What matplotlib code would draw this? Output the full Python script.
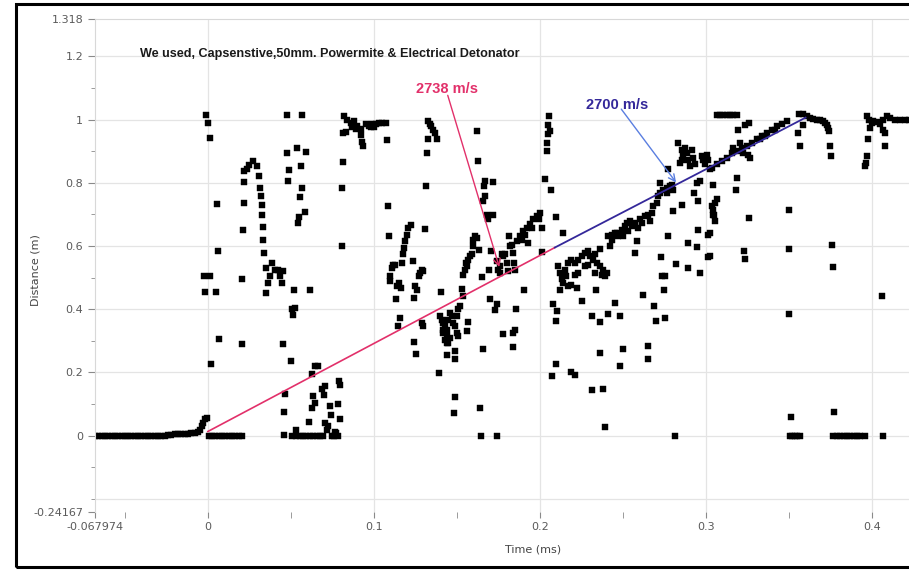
import matplotlib
matplotlib.use("Agg")
import matplotlib.pyplot as plt
from matplotlib.patches import Rectangle

# baseline before trigger (dense run of points at 0)
base_x = [-0.068, -0.066, -0.064, -0.062, -0.060, -0.058, -0.056, -0.054, -0.052, -0.050,
          -0.048, -0.046, -0.044, -0.042, -0.040, -0.038, -0.036, -0.034, -0.032, -0.030,
          -0.028, -0.026, -0.024, -0.022, -0.020, -0.018, -0.016, -0.014, -0.012, -0.010,
          -0.008, -0.006, -0.0048, -0.0038, -0.0028, -0.0018, -0.0008,
          0.0005, 0.0025, 0.0045, 0.0065, 0.0085, 0.0105, 0.0125, 0.0145, 0.0165, 0.0185, 0.0205]
base_y = [0.0, 0.0, 0.0, 0.0, 0.0, 0.0, 0.0, 0.0, 0.0, 0.0,
          0.0, 0.0, 0.0, 0.0, 0.0, 0.0, 0.0, 0.0, 0.0, 0.0,
          0.0, 0.0, 0.003, 0.003, 0.004, 0.004, 0.005, 0.006, 0.006, 0.007,
          0.008, 0.010, 0.019, 0.029, 0.040, 0.051, 0.056,
          0.0, 0.0, 0.0, 0.0, 0.0, 0.0, 0.0, 0.0, 0.0, 0.0, 0.0]

# 0 .. 0.08 ms
g1_x = [-0.001, 0.000, 0.001, 0.0056, 0.006, -0.0024, 0.0012, -0.002, 0.005, 0.0068, 0.0018,
        0.0219, 0.0235, 0.0250, 0.0273, 0.0293, 0.0307, 0.0317, 0.0323, 0.0325, 0.0327, 0.033,
        0.0333, 0.0337, 0.0353, 0.0384, 0.0404, 0.0434, 0.0444, 0.0373, 0.0363, 0.0353, 0.0424,
        0.0454, 0.0219, 0.0215, 0.0209, 0.0205, 0.0207,
        0.0474, 0.0568, 0.0474, 0.0538, 0.0594, 0.049, 0.0564, 0.0484, 0.0568, 0.0554, 0.0584,
        0.0548, 0.054, 0.052, 0.0614, 0.0504, 0.0514, 0.0524, 0.045, 0.05, 0.0464, 0.046, 0.0456,
        0.0645, 0.0665, 0.0625, 0.0685, 0.0705, 0.0635, 0.070, 0.0645, 0.0625, 0.0789, 0.0795,
        0.0785, 0.0735, 0.0741, 0.0795, 0.0608, 0.0705, 0.0725, 0.0715,
        0.0508, 0.053, 0.0554, 0.0574, 0.0594, 0.0614, 0.0634, 0.0655, 0.0675, 0.0695, 0.0745,
        0.0761, 0.0781, 0.053, 0.0765, 0.0772,
        0.0815, 0.0815, 0.0809, 0.0805]
g1_y = [1.014, 0.99, 0.943, 0.734, 0.585, 0.504, 0.504, 0.455, 0.455, 0.307, 0.228,
        0.836, 0.845, 0.855, 0.868, 0.852, 0.821, 0.784, 0.757, 0.731, 0.699, 0.660,
        0.620, 0.578, 0.531, 0.546, 0.525, 0.504, 0.483, 0.504, 0.483, 0.451, 0.525,
        0.520, 0.802, 0.736, 0.652, 0.494, 0.291,
        1.014, 1.014, 0.895, 0.910, 0.898, 0.839, 0.852, 0.805, 0.784, 0.755, 0.707,
        0.692, 0.673, 0.460, 0.462, 0.399, 0.383, 0.404, 0.291, 0.235, 0.133, 0.074, 0.003,
        0.219, 0.219, 0.196, 0.146, 0.158, 0.124, 0.130, 0.103, 0.088, 0.172, 0.161,
        0.101, 0.095, 0.066, 0.051, 0.042, 0.040, 0.030, 0.019,
        0.0, 0.0, 0.0, 0.0, 0.0, 0.0, 0.0, 0.0, 0.0, 0.0, 0.0,
        0.0, 0.0, 0.019, 0.012, 0.008,
        0.958, 0.866, 0.784, 0.601]

# 0.08 .. 0.2 ms
g2_x = [0.082, 0.084, 0.086, 0.088, 0.090, 0.092, 0.0925, 0.093, 0.0935, 0.095, 0.097, 0.099,
        0.101, 0.103, 0.105, 0.107, 0.083, 0.087, 0.089, 0.098, 0.100, 0.1076, 0.1082, 0.109,
        0.1107, 0.1117, 0.1127, 0.1096, 0.11, 0.1137, 0.1153, 0.1161, 0.1133, 0.1167,
        0.1173, 0.1181, 0.1187, 0.1197, 0.1207, 0.1221, 0.1157, 0.1147, 0.1237,
        0.1277, 0.1287, 0.1297, 0.1273, 0.1247, 0.1257, 0.1241, 0.1307, 0.1311, 0.1317, 0.1327,
        0.1327, 0.1337, 0.1347, 0.1357, 0.1367, 0.1381, 0.1287, 0.1297, 0.1241, 0.1251,
        0.1398, 0.1408, 0.1418, 0.1428, 0.1418, 0.1428, 0.1438, 0.1448, 0.1414, 0.1442, 0.1448,
        0.1458, 0.1468, 0.1478, 0.1488, 0.1498, 0.1508, 0.1498, 0.1508, 0.1518, 0.1442, 0.1458,
        0.1404, 0.1442, 0.1488, 0.1488, 0.1394, 0.1488, 0.1482, 0.1528, 0.1534, 0.1568, 0.1562,
        0.1538, 0.1548, 0.1558, 0.1554, 0.1568, 0.1578, 0.1588, 0.1598, 0.1608, 0.1619, 0.1598,
        0.1634, 0.1649, 0.1622, 0.1625, 0.1669, 0.1663, 0.1719, 0.1669, 0.1659, 0.1679, 0.1689,
        0.1719, 0.1655, 0.1639, 0.1643, 0.1739, 0.1699, 0.1739, 0.1729, 0.1695, 0.1703,
        0.1739, 0.1749, 0.1759, 0.1769, 0.1779, 0.1799, 0.1809, 0.1815, 0.1819, 0.1839, 0.1843,
        0.1849, 0.1829, 0.1789, 0.1759, 0.1855, 0.1779, 0.1835, 0.1849, 0.1835, 0.1906, 0.193,
        0.186, 0.188, 0.19, 0.192, 0.194, 0.196, 0.198, 0.2, 0.189, 0.191, 0.195,
        0.1994, 0.201, 0.201]
g2_y = [1.01, 1.0, 0.99, 0.995, 0.98, 0.97, 0.95, 0.93, 0.915, 0.985, 0.98, 0.985,
        0.985, 0.99, 0.99, 0.99, 0.96, 0.975, 0.97, 0.975, 0.975, 0.934, 0.726, 0.633,
        0.531, 0.539, 0.541, 0.504, 0.488, 0.472, 0.483, 0.467, 0.433, 0.546,
        0.573, 0.594, 0.615, 0.636, 0.657, 0.665, 0.372, 0.346, 0.552,
        0.515, 0.525, 0.520, 0.504, 0.472, 0.462, 0.436, 0.654, 0.789, 0.895, 0.937,
        0.995, 0.987, 0.979, 0.968, 0.958, 0.937, 0.357, 0.346, 0.295, 0.259,
        0.378, 0.367, 0.357, 0.346, 0.325, 0.304, 0.293, 0.293, 0.335, 0.335, 0.367,
        0.388, 0.378, 0.357, 0.346, 0.325, 0.314, 0.378, 0.399, 0.409, 0.314, 0.309,
        0.454, 0.256, 0.267, 0.241, 0.198, 0.121, 0.070, 0.464, 0.441, 0.359, 0.330,
        0.509, 0.525, 0.536, 0.546, 0.557, 0.567, 0.573, 0.620, 0.631, 0.625, 0.599,
        0.586, 0.501, 0.963, 0.868, 0.805, 0.789, 0.802, 0.757, 0.741, 0.699, 0.684,
        0.699, 0.274, 0.088, -0.002, -0.002, 0.433, 0.415, 0.396, 0.523, 0.583,
        0.552, 0.525, 0.536, 0.573, 0.567, 0.546, 0.520, 0.631, 0.599, 0.578, 0.546,
        0.525, 0.604, 0.573, 0.515, 0.399, 0.322, 0.325, 0.335, 0.281, 0.460, 0.608,
        0.615, 0.631, 0.646, 0.657, 0.668, 0.684, 0.694, 0.705, 0.620, 0.636, 0.657,
        0.684, 0.657, 0.580]

# 0.2 .. 0.305 ms
g3_x = [0.2054, 0.205, 0.206, 0.2046, 0.204, 0.204, 0.203, 0.2066, 0.2094, 0.214,
        0.211, 0.212, 0.2131, 0.212, 0.214, 0.216, 0.217, 0.219, 0.221, 0.223, 0.2251, 0.2271,
        0.2291, 0.2301, 0.2321, 0.2341, 0.2361, 0.2381, 0.2402, 0.217, 0.219, 0.2221, 0.221,
        0.223, 0.2271, 0.2291, 0.2331, 0.2372, 0.2392, 0.2151, 0.2331, 0.2361,
        0.2337, 0.2251, 0.208, 0.21, 0.2096, 0.2311, 0.2361, 0.2408, 0.2452, 0.2482, 0.2361,
        0.2502, 0.2482, 0.2096, 0.2074, 0.2187, 0.2211, 0.2315, 0.2381, 0.2392, 0.2649, 0.2649,
        0.2619, 0.2689, 0.2697, 0.2753, 0.2733, 0.2753, 0.2749, 0.2729, 0.2813,
        0.2412, 0.2422, 0.2432, 0.2452, 0.2472, 0.2492, 0.2512, 0.2522, 0.2542, 0.2552, 0.2572,
        0.2592, 0.2612, 0.2633, 0.2653, 0.2673, 0.2683, 0.2703, 0.2713, 0.2723, 0.2743, 0.2763,
        0.2783, 0.2432, 0.2462, 0.2502, 0.2532, 0.2572, 0.2602, 0.2663, 0.2582, 0.2572,
        0.2723, 0.2773, 0.2793, 0.2763, 0.2803,
        0.2833, 0.2854, 0.2864, 0.2874, 0.2884, 0.2894, 0.2904, 0.2914, 0.2924, 0.2934, 0.2974,
        0.2984, 0.2994, 0.3004, 0.3014, 0.2843, 0.2854, 0.2944, 0.2964, 0.3024,
        0.2854, 0.2803, 0.293, 0.2954, 0.2769, 0.2817, 0.2894, 0.2944, 0.2954, 0.2894, 0.2964,
        0.301, 0.3014, 0.3034, 0.3044]
g3_y = [1.010, 0.984, 0.963, 0.953, 0.926, 0.900, 0.812, 0.776, 0.692, 0.641,
        0.536, 0.515, 0.494, 0.462, 0.483, 0.504, 0.546, 0.557, 0.546, 0.557, 0.567, 0.578,
        0.583, 0.567, 0.557, 0.546, 0.536, 0.525, 0.515, 0.472, 0.478, 0.467, 0.509,
        0.515, 0.536, 0.541, 0.515, 0.509, 0.504, 0.525, 0.576, 0.591,
        0.460, 0.426, 0.417, 0.393, 0.364, 0.378, 0.359, 0.385, 0.420, 0.378, 0.262,
        0.274, 0.219, 0.225, 0.190, 0.200, 0.192, 0.143, 0.146, 0.028, 0.285, 0.241,
        0.446, 0.409, 0.362, 0.372, 0.504, 0.506, 0.462, 0.564, -0.002,
        0.631, 0.599, 0.620, 0.641, 0.631, 0.652, 0.662, 0.673, 0.678, 0.662, 0.668,
        0.657, 0.673, 0.694, 0.699, 0.705, 0.726, 0.736, 0.757, 0.768, 0.778, 0.784,
        0.789, 0.636, 0.641, 0.631, 0.647, 0.673, 0.684, 0.678, 0.615, 0.578,
        0.800, 0.842, 0.794, 0.768, 0.778,
        0.926, 0.905, 0.884, 0.910, 0.894, 0.873, 0.852, 0.905, 0.879, 0.858, 0.884,
        0.873, 0.858, 0.889, 0.873, 0.863, 0.873, 0.800, 0.805, 0.842,
        0.731, 0.710, 0.768, 0.741, 0.631, 0.544, 0.610, 0.597, 0.650, 0.531, 0.515,
        0.636, 0.564, 0.726, 0.699]

# 0.3 .. 0.42 ms
g4_x = [0.3034, 0.3064, 0.3094, 0.3125, 0.3155, 0.3185, 0.3215, 0.3245, 0.3275, 0.3305, 0.3335,
        0.3366, 0.3396, 0.3426, 0.3456, 0.3486, 0.3225, 0.3255, 0.3265, 0.3165, 0.3205, 0.3325,
        0.3355, 0.3416, 0.3185, 0.3181, 0.3195, 0.3235, 0.3261,
        0.3064, 0.3085, 0.3105, 0.3125, 0.3145, 0.3165, 0.3185,
        0.3044, 0.3054, 0.3044, 0.3048, 0.3054, 0.3064, 0.3024, 0.3024, 0.3259, 0.3231, 0.3235,
        0.35, 0.35, 0.3502, 0.351, 0.3506, 0.352, 0.3536, 0.355, 0.3566,
        0.3562, 0.3586, 0.3606, 0.3627, 0.3647, 0.3667, 0.3687, 0.3707, 0.3717, 0.3727, 0.3737,
        0.3743, 0.3556, 0.3566, 0.3582, 0.3747, 0.3751, 0.3757, 0.3763, 0.3771,
        0.3767, 0.379, 0.381, 0.383, 0.385, 0.387, 0.389, 0.391, 0.393, 0.3958, 0.4064, 0.4062,
        0.3968, 0.3984, 0.3998, 0.4008, 0.4028, 0.4048, 0.4068, 0.4088, 0.4108, 0.4139, 0.4169,
        0.4199, 0.4223, 0.4068, 0.4078, 0.3978, 0.3968, 0.3958, 0.3964, 0.4078, 0.3988]
g4_y = [0.847, 0.858, 0.868, 0.879, 0.895, 0.900, 0.910, 0.915, 0.926, 0.937, 0.947,
        0.958, 0.968, 0.979, 0.987, 0.995, 0.895, 0.889, 0.879, 0.911, 0.927, 0.937,
        0.947, 0.968, 0.815, 0.776, 0.968, 0.984, 0.990,
        1.014, 1.014, 1.014, 1.014, 1.014, 1.014, 1.014,
        0.794, 0.736, 0.715, 0.699, 0.678, 0.747, 0.641, 0.567, 0.689, 0.583, 0.559,
        0.715, 0.589, 0.385, 0.058, 0.0, 0.0, 0.0, 0.0, 0.0,
        1.016, 1.016, 1.010, 1.005, 1.002, 1.0, 0.998, 0.995, 0.990, 0.984, 0.974,
        0.963, 0.958, 0.916, 0.984, 0.916, 0.886, 0.604, 0.534, 0.074,
        0.0, 0.0, 0.0, 0.0, 0.0, 0.0, 0.0, 0.0, 0.0, 0.0, -0.002, 0.441,
        1.010, 1.0, 0.990, 0.995, 0.992, 0.987, 1.0, 1.010, 1.005, 1.0, 0.998,
        0.998, 0.998, 0.968, 0.958, 0.937, 0.886, 0.852, 0.863, 0.916, 0.974]

# velocity fit lines
red_x = [0.0, 0.209]
red_y = [0.013, 0.595]
blue_x = [0.209, 0.360]
blue_y = [0.595, 1.006]

x_ticks = [-0.067974, 0, 0.1, 0.2, 0.3, 0.4]
x_labels = ["-0.067974", "0", "0.1", "0.2", "0.3", "0.4"]
x_minor = [-0.05, 0.05, 0.15, 0.25, 0.35]
y_ticks = [-0.24167, 0, 0.2, 0.4, 0.6, 0.8, 1, 1.2, 1.318]
y_labels = ["-0.24167", "0", "0.2", "0.4", "0.6", "0.8", "1", "1.2", "1.318"]
y_minor = [-0.2, -0.1, 0.1, 0.3, 0.5, 0.7, 0.9, 1.1]
y_grid = [-0.2, 0, 0.2, 0.4, 0.6, 0.8, 1.0, 1.2]
x_grid = [0, 0.1, 0.2, 0.3, 0.4]

red = "#e2306a"
navy = "#34289a"
light_blue = "#5a7ee0"
tick_gray = "#5a5a5a"

fig = plt.figure(figsize=(9.09, 5.71), dpi=100)
ax = fig.add_axes([95 / 909, 59 / 571, 1 - 95 / 909, 493 / 571])
ax.set_xlim(-0.067974, 0.4223)
ax.set_ylim(-0.24167, 1.318)

for v in y_grid:
    ax.axhline(v, color="#e4e4e4", lw=0.9, zorder=0)
for v in x_grid:
    ax.axvline(v, color="#e4e4e4", lw=0.9, zorder=0)

all_x = base_x + g1_x + g2_x + g3_x + g4_x
all_y = base_y + g1_y + g2_y + g3_y + g4_y
ax.plot(all_x, all_y, ls="none", marker="s", ms=3.7, color="black", mec="black", mew=0.3, zorder=2)

ax.plot(red_x, red_y, color=red, lw=1.2, zorder=3)
ax.plot(blue_x, blue_y, color=navy, lw=1.3, zorder=3)

ax.annotate("", xy=(0.176, 0.525), xytext=(0.144, 1.085),
            arrowprops=dict(arrowstyle="->", color=red, lw=1.0, mutation_scale=12), zorder=4)
ax.annotate("", xy=(0.283, 0.794), xytext=(0.248, 1.04),
            arrowprops=dict(arrowstyle="->", color=light_blue, lw=1.0, mutation_scale=12), zorder=4)
ax.text(0.144, 1.095, "2738 m/s", color=red, fontsize=10.5, ha="center", va="center",
        family="Liberation Sans", fontweight="bold", zorder=5)
ax.text(0.2464, 1.047, "2700 m/s", color=navy, fontsize=10.5, ha="center", va="center",
        family="Liberation Sans", fontweight="bold", zorder=5)
ax.text(-0.041, 1.206, "We used, Capsenstive,50mm. Powermite & Electrical Detonator",
        fontsize=9.1, fontweight="bold", ha="left", va="center", color="#1a1a1a",
        family="Liberation Sans")

ax.spines["right"].set_visible(False)
ax.spines["bottom"].set_visible(False)
ax.spines["left"].set_color("#d8d8d8")
ax.spines["top"].set_color("#d8d8d8")

ax.set_xticks(x_ticks)
ax.set_xticklabels(x_labels)
ax.set_xticks(x_minor, minor=True)
ax.set_yticks(y_ticks)
ax.set_yticklabels(y_labels)
ax.set_yticks(y_minor, minor=True)
ax.tick_params(axis="both", which="both", colors="#8a8a8a", labelcolor=tick_gray, labelsize=8)
ax.tick_params(axis="x", which="both", length=4, pad=3, direction="out")
ax.tick_params(axis="y", which="major", length=5, direction="out")
ax.tick_params(axis="y", which="minor", length=3, direction="out")

fig.text(533 / 909, 1 - 549 / 571, "Time (ms)", fontsize=8, color="#444444", ha="center", va="center")
fig.text(35 / 909, 1 - 270 / 571, "Distance (m)", fontsize=8, color="#444444",
         ha="center", va="center", rotation=90)

fig.patches.append(Rectangle((16 / 909, 4 / 571), 1.0, 563 / 571, transform=fig.transFigure,
                             fill=False, edgecolor="black", lw=2.2))

fig.savefig("out.png", dpi=100)
